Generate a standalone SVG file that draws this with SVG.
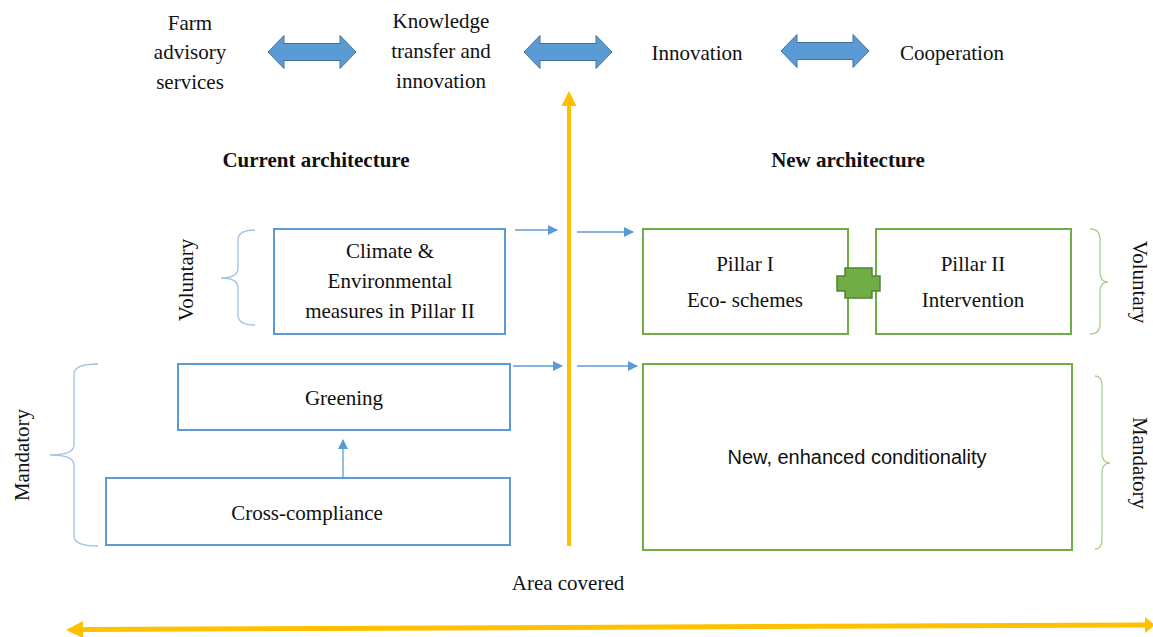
<svg xmlns="http://www.w3.org/2000/svg" width="1153" height="637" viewBox="0 0 1153 637">
<style>
.t{font-family:"Liberation Serif","Times New Roman",serif;font-size:21px;fill:#111;text-anchor:middle}
.b{font-weight:bold;font-size:21px}
.s{font-family:"Liberation Sans",Arial,sans-serif;font-size:20px;fill:#111;text-anchor:middle}
.bx{fill:#fff;stroke:#5b9bd5;stroke-width:2}
.gx{fill:#fff;stroke:#70ad47;stroke-width:2}
.bl{fill:none;stroke:#5b9bd5;stroke-width:1.3}
.brb{fill:none;stroke:#9dc3e6;stroke-width:1.3}
.brg{fill:none;stroke:#a9d18e;stroke-width:1.3}
.dbl{fill:#5b9bd5;stroke:#41719c;stroke-width:1}
.or{stroke:#ffc000;fill:none}
</style>
<defs>
<marker id="ah" markerWidth="10" markerHeight="10" refX="9" refY="5" orient="auto" markerUnits="userSpaceOnUse">
<path d="M0,0 L10,5 L0,10 Z" fill="#5b9bd5"/>
</marker>
<path id="dblarrow" class="dbl" d="M0,0 L16,-16.5 L16,-8.5 L72,-8.5 L72,-16.5 L88,0 L72,16.5 L72,8.5 L16,8.5 L16,16.5 Z"/>
</defs>

<g id="top-labels">
<g id="farm"><text class="t" x="190" y="30">Farm</text><text class="t" x="190" y="59">advisory</text><text class="t" x="190" y="89">services</text></g>
<g id="knowledge"><text class="t" x="441" y="28">Knowledge</text><text class="t" x="441" y="58">transfer and</text><text class="t" x="441" y="88">innovation</text></g>
<g id="innovation"><text class="t" x="697" y="60">Innovation</text></g>
<g id="cooperation"><text class="t" x="952" y="60">Cooperation</text></g>
</g>

<g id="headings">
<text class="t b" x="316" y="167">Current architecture</text>
<text class="t b" x="848" y="167">New architecture</text>
</g>

<g id="climate"><rect class="bx" x="274" y="229" width="231" height="105"/>
<text class="t" x="390" y="258">Climate &amp;</text><text class="t" x="390" y="288">Environmental</text><text class="t" x="390" y="318">measures in Pillar II</text></g>

<g id="greening"><rect class="bx" x="178" y="364" width="332" height="66"/><text class="t" x="344" y="405">Greening</text></g>
<g id="cross"><rect class="bx" x="106" y="478" width="404" height="67"/><text class="t" x="307" y="520">Cross-compliance</text></g>

<g id="pillar1"><rect class="gx" x="643" y="229" width="205" height="105"/>
<text class="t" x="745" y="271">Pillar I</text><text class="t" x="745" y="307">Eco- schemes</text></g>
<g id="pillar2"><rect class="gx" x="876" y="229" width="195" height="105"/>
<text class="t" x="973" y="271">Pillar II</text><text class="t" x="973" y="307">Intervention</text></g>
<g id="plus"><path d="M845,268 L872,268 L872,276 L880,276 L880,291 L872,291 L872,298 L845,298 L845,291 L837,291 L837,276 L845,276 Z" fill="#70ad47" stroke="#548235" stroke-width="1.5"/></g>

<g id="conditionality"><rect class="gx" x="643" y="364" width="429" height="186"/><text class="s" x="857" y="464">New, enhanced conditionality</text></g>

<g id="braces">
<path class="brb" d="M255,230 Q238,230 238,240 L238,268 Q238,278 221,278 Q238,278 238,288 L238,315 Q238,325 255,325"/>
<path class="brb" d="M98,364 Q74,364 74,374 L74,445 Q74,455 50,455 Q74,455 74,465 L74,536 Q74,546 98,546"/>
<path class="brg" d="M1090,229 Q1100,229 1100,239 L1100,272 Q1100,282 1108,282 Q1100,282 1100,292 L1100,324 Q1100,334 1090,334"/>
<path class="brg" d="M1095,376 Q1102,376 1102,386 L1102,453 Q1102,463 1110,463 Q1102,463 1102,473 L1102,539 Q1102,549 1095,549"/>
<text class="t" transform="translate(186,280) rotate(-90)" dominant-baseline="central">Voluntary</text>
<text class="t" transform="translate(22,455) rotate(-90)" dominant-baseline="central">Mandatory</text>
<text class="t" transform="translate(1140,282) rotate(90)" dominant-baseline="central">Voluntary</text>
<text class="t" transform="translate(1140,463) rotate(90)" dominant-baseline="central">Mandatory</text>
</g>

<g id="connectors">
<use href="#dblarrow" x="268" y="52"/>
<use href="#dblarrow" x="524" y="52"/>
<use href="#dblarrow" x="781" y="51"/>
<line class="bl" x1="515" y1="230" x2="557" y2="230" marker-end="url(#ah)"/>
<line class="bl" x1="577" y1="232" x2="633" y2="232" marker-end="url(#ah)"/>
<line class="bl" x1="513" y1="366" x2="562" y2="366" marker-end="url(#ah)"/>
<line class="bl" x1="577" y1="366" x2="637" y2="366" marker-end="url(#ah)"/>
<line class="bl" x1="343" y1="478" x2="343" y2="440" marker-end="url(#ah)"/>
<line class="or" x1="569" y1="546" x2="569" y2="104" stroke-width="4"/>
<polygon points="569,91 561.5,106 576.5,106" fill="#ffc000"/>
<line class="or" x1="80" y1="629.5" x2="1146" y2="625" stroke-width="5"/>
<polygon points="66,630 83,621 83,638" fill="#ffc000"/>
<polygon points="1155,625 1145,617 1145,633" fill="#ffc000"/>
<text class="t" x="568" y="590">Area covered</text>
</g>
</svg>
